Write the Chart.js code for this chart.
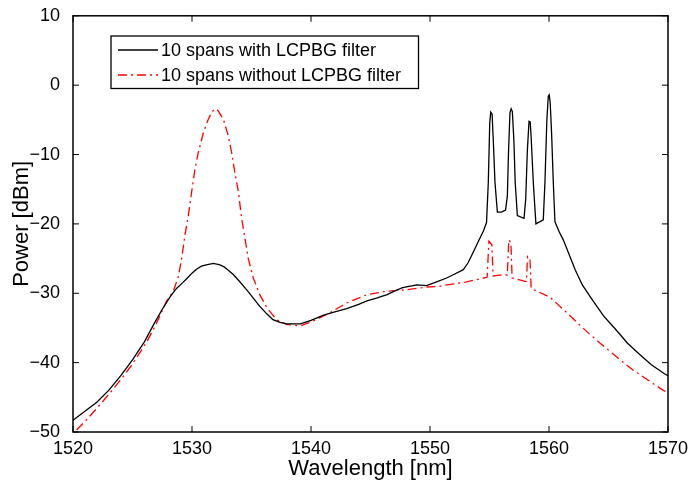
<!DOCTYPE html>
<html>
<head>
<meta charset="utf-8">
<script src="https://cdn.jsdelivr.net/npm/chart.js@4/dist/chart.umd.min.js"></script>
<style>
  html, body { margin: 0; padding: 0; background: #fff; }
  #wrap { width: 688px; height: 483px; }
</style>
</head>
<body>
<div id="wrap"><canvas id="c" width="688" height="483"></canvas></div>
<script>
// ---- Data ----
const seriesLabels = ['10 spans with LCPBG filter', '10 spans without LCPBG filter'];

const withFilterWl = [
  1520, 1521, 1522, 1523, 1524, 1525, 1526, 1526.75, 1527.5, 1528.2, 1528.7, 1529.2, 1529.55, 1530.0, 1530.4, 1530.8, 1531.2,
  1531.8, 1532.35, 1532.7, 1533.0, 1533.47, 1534.0, 1534.6, 1535.2, 1535.7, 1536.3, 1536.8, 1537.4, 1537.96,
  1539.1, 1540.0, 1541.0, 1542.0, 1543.0, 1544.0, 1544.7, 1545.5, 1546.4, 1547.0, 1547.7, 1548.9,
  1549.7, 1550.5, 1551.4, 1552.0, 1552.8, 1553.2, 1553.6, 1554.1, 1554.5, 1554.75,
  1554.9, 1555.02, 1555.1, 1555.22, 1555.32, 1555.46, 1555.66, 1556.0, 1556.35,
  1556.5, 1556.6, 1556.72, 1556.82, 1556.92, 1557.05, 1557.16, 1557.34, 1557.9,
  1558.04, 1558.18, 1558.32, 1558.42, 1558.5, 1558.68, 1558.9, 1559.52,
  1559.66, 1559.82, 1559.94, 1560.02, 1560.1, 1560.22, 1560.36, 1560.5,
  1560.9, 1561.2, 1561.6, 1562.2, 1562.8, 1563.7, 1564.6, 1565.7, 1566.6, 1567.6, 1568.6, 1569.7, 1570
];
const withFilterDbm = [
  -48.3, -47.0, -45.7, -44.0, -41.9, -39.6, -37.0, -34.6, -32.3, -30.4, -29.3, -28.5, -27.9, -27.1, -26.5, -26.1, -25.9,
  -25.7, -25.9, -26.2, -26.6, -27.3, -28.3, -29.5, -30.8, -31.9, -33.0, -33.8, -34.2, -34.4,
  -34.4, -33.9, -33.2, -32.7, -32.2, -31.6, -31.1, -30.7, -30.2, -29.7, -29.2, -28.8,
  -28.9, -28.4, -27.8, -27.3, -26.6, -25.6, -24.2, -22.4, -21.0, -19.8,
  -14.0, -5.5, -3.9, -4.2, -8.0, -14.0, -18.3, -18.3, -18.0,
  -16.0, -9.5, -4.0, -3.4, -3.8, -8.0, -14.0, -18.8, -19.2,
  -16.5, -9.5, -5.2, -5.3, -7.5, -14.0, -20.0, -19.4,
  -14.0, -5.0, -1.6, -1.4, -2.5, -7.0, -14.0, -19.7,
  -21.3, -22.3, -24.0, -26.6, -28.8, -31.1, -33.3, -35.4, -37.2, -38.8, -40.3, -41.6, -41.9
];

const withoutFilterWl = [
  1520.3, 1521, 1522, 1523, 1524, 1525, 1526.2, 1527.0, 1527.87, 1528.43, 1528.85, 1529.13, 1529.41,
  1529.69, 1529.97, 1530.25, 1530.53, 1530.95, 1531.37, 1531.7, 1531.93, 1532.2, 1532.63, 1533.05,
  1533.33, 1533.6, 1533.9, 1534.17, 1534.45, 1534.73, 1535.15, 1535.7, 1536.3, 1537.1, 1537.96,
  1539.1, 1540.2, 1541.6, 1543.0, 1544.7, 1546.4, 1548.0, 1549.7, 1550.8, 1551.4, 1553.0, 1554.5,
  1554.8, 1554.95, 1555.2, 1555.3, 1556.3, 1556.5, 1556.62, 1556.8, 1556.9, 1558.0,
  1558.1, 1558.2, 1558.4, 1558.5, 1560.1, 1561.5, 1562.9, 1564.3, 1565.7, 1567.0, 1568.3, 1569.6, 1570
];
const withoutFilterDbm = [
  -49.7, -48.5, -46.6, -44.6, -42.5, -40.2, -37.0, -34.4, -31.1, -29.7, -27.6, -25.0, -21.6,
  -18.8, -15.4, -12.1, -9.7, -6.9, -4.9, -3.8, -3.4, -3.7, -4.9, -7.3,
  -9.7, -12.6, -15.4, -19.2, -22.1, -25.0, -27.8, -30.2, -32.1, -33.8, -34.5,
  -34.7, -34.0, -32.8, -31.4, -30.2, -29.7, -29.5, -29.1, -29.0, -28.8, -28.4, -27.8,
  -27.7, -22.5, -23.0, -27.5, -27.3, -27.4, -22.3, -22.7, -27.8, -28.3,
  -28.3, -24.7, -25.0, -29.3, -30.6, -32.8, -35.1, -37.2, -39.2, -41.0, -42.5, -44.0, -44.3
];

const xTicks = [1520, 1530, 1540, 1550, 1560, 1570];
const yTicks = [10, 0, -10, -20, -30, -40, -50];

// ---- Build ----
function toPoints(xs, ys) { return xs.map((x, i) => ({ x: x, y: ys[i] })); }
const FONT = '"Liberation Sans", Arial, Helvetica, sans-serif';

const frameAndTicks = {
  id: 'frameAndTicks',
  afterDatasetsDraw(chart) {
    const { ctx, chartArea: a, scales } = chart;
    ctx.save();
    ctx.strokeStyle = '#000';
    ctx.lineWidth = 1.5;
    ctx.strokeRect(a.left, a.top, a.right - a.left, a.bottom - a.top);
    const L = 6;
    ctx.beginPath();
    xTicks.forEach(v => {
      const px = scales.x.getPixelForValue(v);
      ctx.moveTo(px, a.bottom); ctx.lineTo(px, a.bottom - L);
      ctx.moveTo(px, a.top); ctx.lineTo(px, a.top + L);
    });
    yTicks.forEach(v => {
      const py = scales.y.getPixelForValue(v);
      ctx.moveTo(a.left, py); ctx.lineTo(a.left + L, py);
      ctx.moveTo(a.right, py); ctx.lineTo(a.right - L, py);
    });
    ctx.lineWidth = 1;
    ctx.stroke();

    // Legend box
    const bx = 111, by = 36, bw = 307.5, bh = 52.5;
    ctx.fillStyle = '#fff';
    ctx.fillRect(bx, by, bw, bh);
    ctx.lineWidth = 1.3;
    ctx.strokeStyle = '#000';
    ctx.strokeRect(bx, by, bw, bh);
    const rows = [50, 75];
    chart.data.datasets.forEach((ds, i) => {
      ctx.beginPath();
      ctx.strokeStyle = ds.borderColor;
      ctx.lineWidth = ds.borderWidth;
      ctx.setLineDash(ds.borderDash || []);
      ctx.moveTo(118, rows[i]); ctx.lineTo(158, rows[i]);
      ctx.stroke();
      ctx.setLineDash([]);
      ctx.fillStyle = '#000';
      ctx.font = '18px ' + FONT;
      ctx.textBaseline = 'middle';
      ctx.textAlign = 'left';
      ctx.fillText(ds.label, 161, rows[i] + 1);
    });
    ctx.restore();
  }
};

new Chart(document.getElementById('c'), {
  type: 'line',
  data: {
    datasets: [
      {
        label: seriesLabels[0],
        data: toPoints(withFilterWl, withFilterDbm),
        borderColor: '#000000',
        borderWidth: 1.3,
        pointRadius: 0,
        tension: 0,
        fill: false
      },
      {
        label: seriesLabels[1],
        data: toPoints(withoutFilterWl, withoutFilterDbm),
        borderColor: '#ff0000',
        borderWidth: 1.3,
        borderDash: [9, 4, 2, 4],
        pointRadius: 0,
        tension: 0,
        fill: false
      }
    ]
  },
  options: {
    responsive: false,
    animation: false,
    devicePixelRatio: 1,
    layout: { padding: { left: 0, top: 13, right: 20, bottom: 0 } },
    plugins: { legend: { display: false }, tooltip: { enabled: false } },
    scales: {
      x: {
        type: 'linear',
        min: 1520, max: 1570,
        afterBuildTicks: s => { s.ticks = xTicks.map(v => ({ value: v })); },
        afterFit: s => { s.height = 51; },
        grid: { display: false },
        border: { display: false },
        ticks: {
          color: '#000', padding: -2,
          font: { family: FONT, size: 18 },
          callback: v => String(v)
        },
        title: {
          display: true, text: 'Wavelength [nm]', color: '#000',
          font: { family: FONT, size: 22 },
          padding: { top: 0, bottom: 1 }
        }
      },
      y: {
        type: 'linear',
        min: -50, max: 10,
        afterBuildTicks: s => { s.ticks = yTicks.map(v => ({ value: v })); },
        afterFit: s => { s.width = 73; },
        grid: { display: false },
        border: { display: false },
        ticks: {
          color: '#000', padding: 5,
          font: { family: FONT, size: 18 },
          callback: v => (v < 0 ? '\u2212' + Math.abs(v) : String(v))
        },
        title: {
          display: true, text: 'Power [dBm]', color: '#000',
          font: { family: FONT, size: 22 },
          padding: { top: 9, bottom: 0 }
        }
      }
    }
  },
  plugins: [frameAndTicks]
});
</script>
</body>
</html>
